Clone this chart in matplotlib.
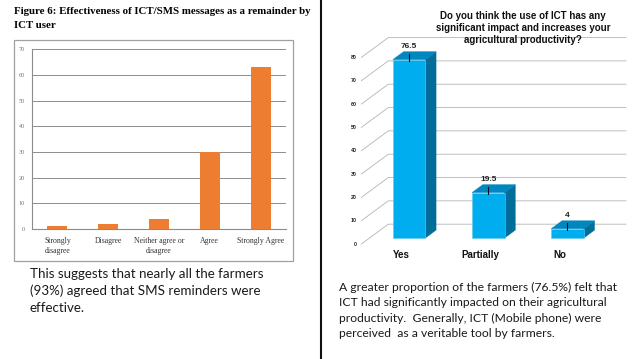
import matplotlib
matplotlib.use("Agg")
import matplotlib.pyplot as plt
from matplotlib.patches import Polygon, Rectangle

# Figure 6 (left): effectiveness of SMS reminders
sms_labels = ["Strongly\ndisagree", "Disagree", "Neither agree or\ndisagree", "Agree", "Strongly Agree"]
sms_values = [1, 2, 4, 30, 63]
sms_yticks = [0, 10, 20, 30, 40, 50, 60, 70]

# right: impact of ICT on productivity
ict_labels = ["Yes", "Partially", "No"]
ict_values = [76.5, 19.5, 4]
ict_yticks = [0, 10, 20, 30, 40, 50, 60, 70, 80]

W, H = 638, 359

ORANGE = "#ed7d31"
FRONT = "#00aeef"
SIDE = "#006e98"
TOP = "#0087bf"
GRID = "#b4b4b4"


def fig_box(x0, y0, x1, y1):
    """pixel box (origin top-left) -> figure fraction rect"""
    return [x0 / W, 1 - y1 / H, (x1 - x0) / W, (y1 - y0) / H]


fig = plt.figure(figsize=(W / 100, H / 100), dpi=100)

# ---------- left panel ----------
fig.text(14 / W, 1 - 7.5 / H,
         "Figure 6: Effectiveness of ICT/SMS messages as a remainder by\nICT user",
         family="Liberation Serif", weight="bold", fontsize=7.85, va="top",
         linespacing=1.68, ha="left")

bx = fig_box(14, 40, 293, 261)
fig.patches.append(Rectangle((bx[0], bx[1]), bx[2], bx[3], transform=fig.transFigure,
                             fill=False, edgecolor="#a0a0a0", linewidth=0.9))

ax1 = fig.add_axes(fig_box(32, 49.3, 286, 229))
xs = range(len(sms_values))
ax1.bar(xs, sms_values, width=0.39, color=ORANGE, zorder=3)
ax1.set_xlim(-0.5, len(sms_values) - 0.5)
ax1.set_ylim(0, 70)
ax1.set_yticks(sms_yticks)
ax1.set_yticklabels([str(t) for t in sms_yticks], family="Liberation Serif",
                    fontsize=4.5, color="#777777")
ax1.set_xticks(list(xs))
ax1.set_xticklabels(sms_labels, family="Liberation Serif", fontsize=5.6,
                    color="#333333", linespacing=1.25)
ax1.tick_params(axis="x", length=0, pad=6)
ax1.tick_params(axis="y", length=0, pad=5)
ax1.grid(axis="y", color="#8c8c8c", linewidth=0.7, zorder=0)
for side in ("top", "right"):
    ax1.spines[side].set_visible(False)
ax1.spines["left"].set_color("#8c8c8c")
ax1.spines["bottom"].set_color("#8c8c8c")

fig.text(30 / W, 1 - 268.5 / H,
         "This suggests that nearly all the farmers\n(93%) agreed that SMS reminders were\neffective.",
         family="Lato", fontsize=9.6, va="top", ha="left", linespacing=1.42,
         color="#1a1a1a")

# separator
fig.add_artist(plt.Line2D([321 / W, 321 / W], [0, 1], color="#111111",
                          linewidth=1.5, transform=fig.transFigure))

# ---------- right panel (pseudo 3D) ----------
ax2 = fig.add_axes(fig_box(337.6, 29.4, 630.7, 258))
ax2.set_xlim(-0.8, 2.9)
ax2.set_ylim(-6, 92)
ax2.axis("off")

DX, DY = 0.34, 8.5          # full depth of the floor
X0, X1 = -0.5, 2.5          # floor extent at the front plane
for t in ict_yticks:
    ax2.plot([X0, X0 + DX, X1 + DX], [t, t + DY, t + DY], color=GRID,
             linewidth=0.6, zorder=1)
    ax2.text(X0 - 0.06, t, str(t), ha="right", va="center", fontsize=3.8,
             weight="bold", family="Liberation Sans", color="#222222")

OFF_X, OFF_Y = 0.3 * DX, 0.3 * DY    # bar front plane
BD_X, BD_Y = 0.4 * DX, 0.4 * DY      # bar depth
BW = 0.41
for i, v in enumerate(ict_values):
    xl = i - BW / 2 + OFF_X
    xr = i + BW / 2 + OFF_X
    yb = OFF_Y
    yt = OFF_Y + v
    ax2.add_patch(Polygon([(xr, yb), (xr + BD_X, yb + BD_Y), (xr + BD_X, yt + BD_Y), (xr, yt)],
                          closed=True, facecolor=SIDE, edgecolor=SIDE, linewidth=0.3, zorder=3))
    ax2.add_patch(Polygon([(xl, yt), (xr, yt), (xr + BD_X, yt + BD_Y), (xl + BD_X, yt + BD_Y)],
                          closed=True, facecolor=TOP, edgecolor=TOP, linewidth=0.3, zorder=3))
    ax2.add_patch(Rectangle((xl, yb), BW, v, facecolor=FRONT, edgecolor="#5cc8f0",
                            linewidth=0.4, zorder=4))
    lx = i + OFF_X
    ax2.plot([lx, lx], [yt - 0.7, yt + 2.6], color="#111111", linewidth=0.8, zorder=5)
    ax2.text(lx, yt + 5.6, f"{v:g}", ha="center", va="center", fontsize=6,
             weight="bold", family="Liberation Sans", color="#222222", zorder=5)
    ax2.text(i, -4.7, ict_labels[i], ha="center", va="center", fontsize=7,
             weight="bold", family="Liberation Sans", color="#111111")

fig.text(523 / W, 1 - 28.3 / H,
         "Do you think the use of ICT has any\nsignificant impact and increases your\nagricultural productivity?",
         ha="center", va="center", fontsize=7, weight="bold",
         family="Liberation Sans", linespacing=1.25, color="#111111")

fig.text(339 / W, 1 - 281.5 / H,
         "A greater proportion of the farmers (76.5%) felt that\n"
         "ICT had significantly impacted on their agricultural\n"
         "productivity.  Generally, ICT (Mobile phone) were\n"
         "perceived  as a veritable tool by farmers.",
         family="Lato", fontsize=8.7, va="top", ha="left", linespacing=1.5,
         color="#1a1a1a")

fig.savefig("out.png", dpi=100)
